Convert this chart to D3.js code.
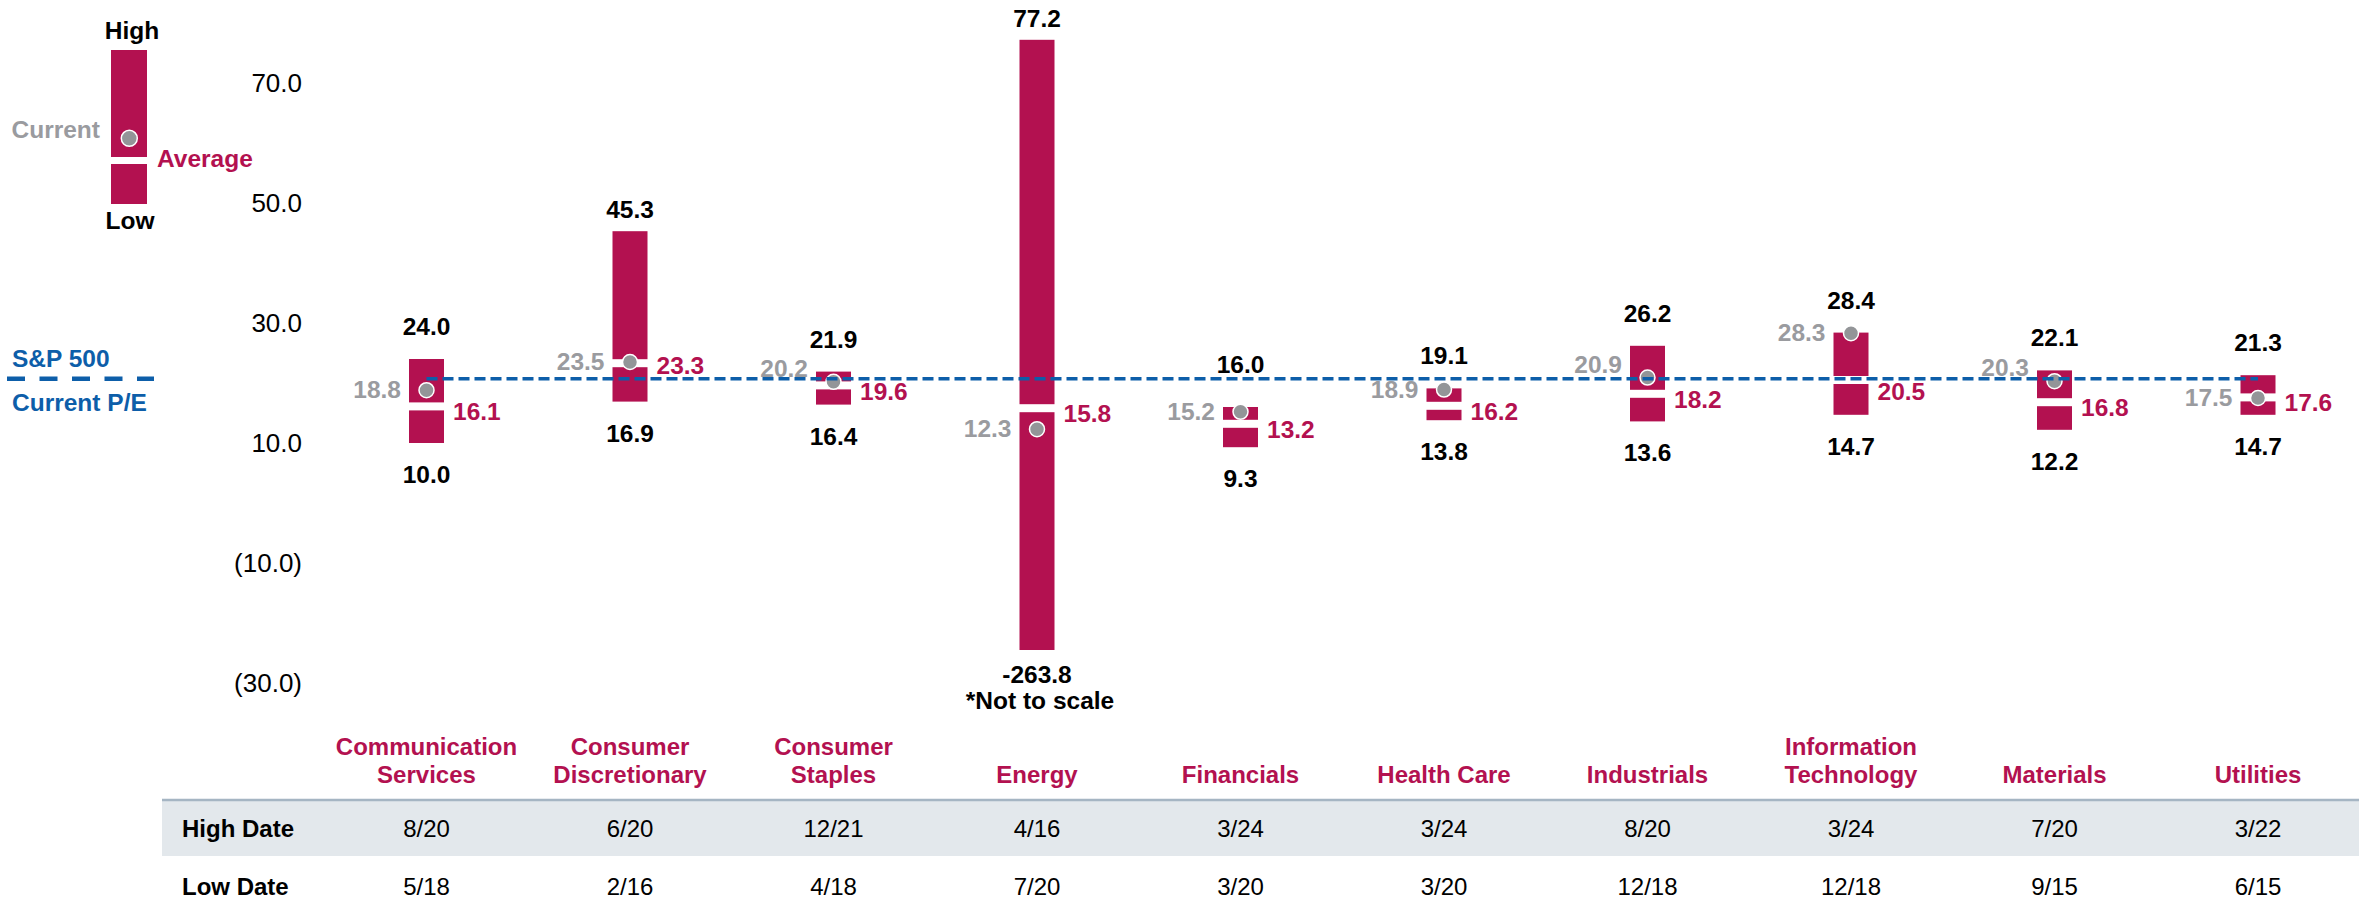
<!DOCTYPE html>
<html lang="en">
<head>
    <meta charset="UTF-8">
    <title>Sector P/E Ranges</title>
    <script src="https://d3js.org/d3.v7.min.js"></script>
    <style>
        body { margin: 0; background: #fff; font-family: "Liberation Sans", Arial, sans-serif; }
        svg { display: block; }
        .val { font-size: 24.5px; font-weight: bold; }
        .tick text { font-size: 26px; fill: #000; }
        .tbl { font-size: 24px; }
    </style>
</head>
<body>
    <div id="chart"></div>

    <script>
        const categories = ["Communication Services", "Consumer Discretionary", "Consumer Staples", "Energy", "Financials",
            "Health Care", "Industrials", "Information Technology", "Materials", "Utilities"];
        const highs = [24.0, 45.3, 21.9, 77.2, 16.0, 19.1, 26.2, 28.4, 22.1, 21.3];
        const lows = [10.0, 16.9, 16.4, -263.8, 9.3, 13.8, 13.6, 14.7, 12.2, 14.7];
        const currents = [18.8, 23.5, 20.2, 12.3, 15.2, 18.9, 20.9, 28.3, 20.3, 17.5];
        const averages = [16.1, 23.3, 19.6, 15.8, 13.2, 16.2, 18.2, 20.5, 16.8, 17.6];
        const highDates = ["8/20", "6/20", "12/21", "4/16", "3/24", "3/24", "8/20", "3/24", "7/20", "3/22"];
        const lowDates = ["5/18", "2/16", "4/18", "7/20", "3/20", "3/20", "12/18", "12/18", "9/15", "6/15"];
        const spxPE = 20.7;
        const yTicks = [70, 50, 30, 10, -10, -30];
        const axisFloor = -24.5;   // bars below this are cut off (not to scale)

        const width = 2359, height = 911;
        const crimson = "#B31150", grey = "#939598", greyText = "#9A9B9F", blue = "#0D5EA9";
        const barW = 35, gapH = 8;

        const svg = d3.select("#chart").append("svg")
            .attr("width", width)
            .attr("height", height);

        const x = d3.scalePoint().domain(categories).range([426.5, 2258]);
        const y = d3.scaleLinear().domain([-30, 70]).range([683, 83]);

        const fmt = v => v < 0 ? `(${Math.abs(v).toFixed(1)})` : v.toFixed(1);

        // y axis
        const yAxis = svg.append("g")
            .attr("transform", "translate(310,0)")
            .call(d3.axisLeft(y).tickValues(yTicks).tickSize(0).tickPadding(8).tickFormat(fmt));
        yAxis.select(".domain").remove();
        yAxis.selectAll("text").attr("font-family", "Liberation Sans, Arial, sans-serif");

        const rows = categories.map((c, i) => ({
            cat: c, high: highs[i], low: lows[i], cur: currents[i], avg: averages[i],
            hd: highDates[i], ld: lowDates[i], cut: lows[i] < axisFloor
        }));
        const lineY = y(spxPE);

        const g = svg.append("g");
        const labels = svg.append("g");
        rows.forEach(d => {
            const cx = x(d.cat);
            const bottom = y(Math.max(d.low, axisFloor));
            const top = y(d.high);
            g.append("rect")
                .attr("x", cx - barW / 2).attr("y", top)
                .attr("width", barW).attr("height", bottom - top)
                .attr("fill", crimson);
            g.append("rect")
                .attr("x", cx - barW / 2 - 1).attr("y", y(d.avg) - gapH / 2)
                .attr("width", barW + 2).attr("height", gapH)
                .attr("fill", "#fff");
            g.append("circle")
                .attr("cx", cx).attr("cy", y(d.cur)).attr("r", 7.5)
                .attr("fill", grey).attr("stroke", "#fff").attr("stroke-width", 1.5);

            // high label, kept clear of the S&P line
            const tall = d.high - Math.max(d.low, axisFloor) > 25;
            let hb = top - (tall ? 13 : 24);
            if (hb > lineY - 6 && hb - 18 < lineY + 4) hb = lineY - 6;
            labels.append("text").attr("class", "val")
                .attr("x", cx).attr("y", hb).attr("text-anchor", "middle")
                .attr("fill", "#000").text(d.high.toFixed(1));

            // low label
            const lb = bottom + (d.cut ? 33 : 40);
            labels.append("text").attr("class", "val")
                .attr("x", cx).attr("y", lb).attr("text-anchor", "middle")
                .attr("fill", "#000").text(d.low.toFixed(1));
            if (d.cut) {
                labels.append("text").attr("class", "val")
                    .attr("x", cx + 3).attr("y", lb + 26).attr("text-anchor", "middle")
                    .attr("fill", "#000").text("*Not to scale");
            }

            // current label on the left
            let cb = y(d.cur) + 8;
            if (Math.abs(y(d.cur) - lineY) < 4) cb -= 13;
            labels.append("text").attr("class", "val")
                .attr("x", cx - barW / 2 - 8).attr("y", cb)
                .attr("text-anchor", "end").attr("fill", greyText)
                .text(d.cur.toFixed(1));

            // average label on the right, moved off the line if they meet
            let ab = y(d.avg) + 14;
            if (ab > lineY - 6 && ab - 18 < lineY + 4) {
                ab = y(d.avg) < lineY ? lineY - 5 : lineY + 21;
            }
            labels.append("text").attr("class", "val")
                .attr("x", cx + barW / 2 + 9).attr("y", ab)
                .attr("text-anchor", "start").attr("fill", crimson)
                .text(d.avg.toFixed(1));
        });

        // S&P 500 current P/E line
        g.append("line")
            .attr("x1", x(categories[0])).attr("x2", x(categories[categories.length - 1]))
            .attr("y1", lineY).attr("y2", lineY)
            .attr("stroke", blue).attr("stroke-width", 3.5)
            .attr("stroke-dasharray", "11,5");

        // S&P legend
        svg.append("line")
            .attr("x1", 7).attr("x2", 154).attr("y1", lineY).attr("y2", lineY)
            .attr("stroke", blue).attr("stroke-width", 4.5)
            .attr("stroke-dasharray", "18,14.5");
        svg.append("text").attr("class", "val").attr("x", 12).attr("y", lineY - 12)
            .attr("fill", blue).text("S&P 500");
        svg.append("text").attr("class", "val").attr("x", 12).attr("y", lineY + 32)
            .attr("fill", blue).text("Current P/E");

        // key at top left
        const key = svg.append("g");
        key.append("rect").attr("x", 111).attr("y", 50).attr("width", 36).attr("height", 154).attr("fill", crimson);
        key.append("rect").attr("x", 110).attr("y", 157).attr("width", 38).attr("height", 7).attr("fill", "#fff");
        key.append("circle").attr("cx", 129.3).attr("cy", 138.3).attr("r", 8)
            .attr("fill", grey).attr("stroke", "#fff").attr("stroke-width", 1.5);
        key.append("text").attr("class", "val").attr("x", 132).attr("y", 39).attr("text-anchor", "middle").text("High");
        key.append("text").attr("class", "val").attr("x", 130).attr("y", 229).attr("text-anchor", "middle").text("Low");
        key.append("text").attr("class", "val").attr("x", 100).attr("y", 138).attr("text-anchor", "end")
            .attr("fill", greyText).text("Current");
        key.append("text").attr("class", "val").attr("x", 157).attr("y", 167)
            .attr("fill", crimson).text("Average");

        // table below
        svg.append("rect").attr("x", 162).attr("y", 799).attr("width", width - 162).attr("height", 57)
            .attr("fill", "#E3E8EC");
        svg.append("line").attr("x1", 162).attr("x2", width).attr("y1", 800).attr("y2", 800)
            .attr("stroke", "#A5B5C3").attr("stroke-width", 2.5);

        rows.forEach(d => {
            const cx = x(d.cat);
            const lines = d.cat === "Health Care" ? [d.cat] : d.cat.split(" ");
            const t = svg.append("text").attr("class", "tbl")
                .attr("text-anchor", "middle").attr("font-weight", "bold").attr("fill", crimson);
            lines.forEach((ln, k) => {
                t.append("tspan").attr("x", cx)
                    .attr("y", 783 - (lines.length - 1 - k) * 27.7).text(ln);
            });
            svg.append("text").attr("class", "tbl").attr("x", cx).attr("y", 837)
                .attr("text-anchor", "middle").text(d.hd);
            svg.append("text").attr("class", "tbl").attr("x", cx).attr("y", 895)
                .attr("text-anchor", "middle").text(d.ld);
        });
        svg.append("text").attr("class", "tbl").attr("x", 182).attr("y", 837)
            .attr("font-weight", "bold").text("High Date");
        svg.append("text").attr("class", "tbl").attr("x", 182).attr("y", 895)
            .attr("font-weight", "bold").text("Low Date");
    </script>
</body>
</html>
